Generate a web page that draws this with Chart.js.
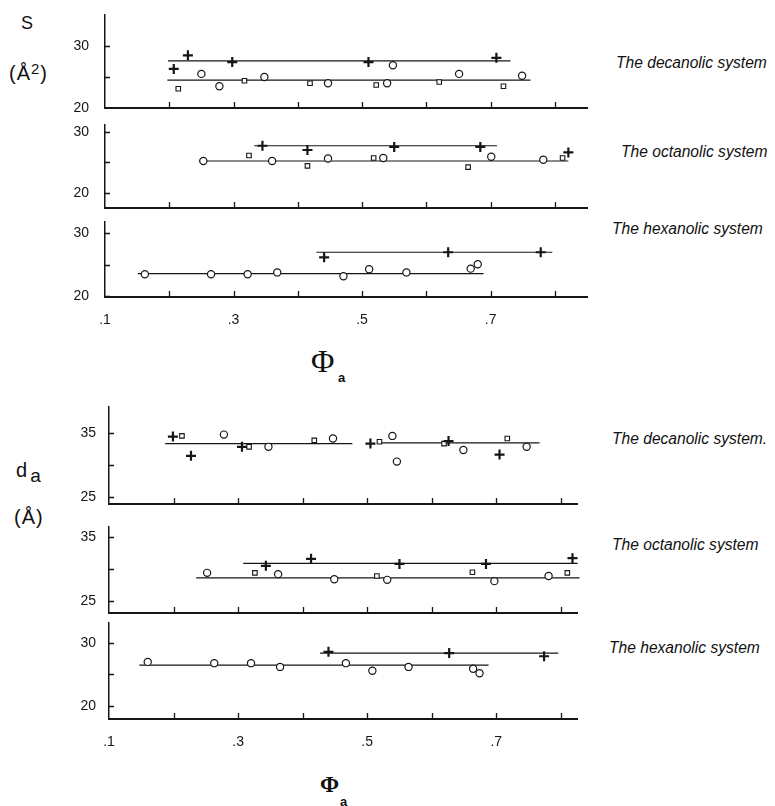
<!DOCTYPE html>
<html>
<head>
<meta charset="utf-8">
<script src="https://cdn.jsdelivr.net/npm/chart.js@4.4.1/dist/chart.umd.min.js"></script>
<style>
  html, body { margin: 0; padding: 0; background: #fff; }
  #page { position: relative; width: 775px; height: 806px; overflow: hidden;
          font-family: "Liberation Sans", Arial, sans-serif; color: #111; }
  #page canvas { position: absolute; left: 0; }
  .lbl { position: absolute; line-height: 1; white-space: nowrap; }
  .sys { font-style: italic; font-size: 15.6px; }
  .phi { font-family: "Liberation Serif", "DejaVu Serif", serif; }
</style>
</head>
<body>
<div id="page">
  <div class="lbl" style="left:21px;top:14px;font-size:18px">S</div>
  <div class="lbl" style="left:9px;top:61px;font-size:20px;letter-spacing:1px">(Å<span style="font-size:15px;vertical-align:6px">2</span>)</div>
  <div class="lbl" style="left:16px;top:460px;font-size:20px">d<span style="font-size:19px;vertical-align:-5px;margin-left:3px">a</span></div>
  <div class="lbl" style="left:14px;top:507px;font-size:20px;letter-spacing:1px">(Å)</div>

  <div class="lbl sys" style="left:616px;top:55px">The decanolic system</div>
  <div class="lbl sys" style="left:621px;top:144px">The octanolic system</div>
  <div class="lbl sys" style="left:612px;top:221px">The hexanolic system</div>
  <div class="lbl sys" style="left:612px;top:431px">The decanolic system.</div>
  <div class="lbl sys" style="left:612px;top:537px">The octanolic system</div>
  <div class="lbl sys" style="left:609px;top:640px">The hexanolic system</div>

  <div class="lbl phi" style="left:311px;top:345px;font-size:32px">Φ</div>
  <div class="lbl" style="left:338px;top:371px;font-size:13px;font-weight:bold">a</div>
  <div class="lbl phi" style="left:320px;top:773px;font-size:23px;font-weight:bold">Φ</div>
  <div class="lbl" style="left:340px;top:795px;font-size:13px;font-weight:bold">a</div>
</div>

<script>
// x axis (volume fraction) ticks
const xTicks = [0.1, 0.2, 0.3, 0.4, 0.5, 0.6, 0.7, 0.8];
const xTickLabels = [0.1, 0.3, 0.5, 0.7];

// ---- S (A^2) panels ----
const sDecPlus = [[0.207, 26.3], [0.229, 28.5], [0.298, 27.4], [0.51, 27.4], [0.709, 28.1]];
const sDecCircle = [[0.25, 25.5], [0.278, 23.5], [0.348, 25.0], [0.447, 24.0], [0.539, 24.0],
                    [0.548, 26.9], [0.651, 25.5], [0.749, 25.2]];
const sDecSquare = [[0.214, 23.1], [0.317, 24.4], [0.419, 24.0], [0.522, 23.7], [0.62, 24.2], [0.72, 23.5]];
const sDecPlusFit = [[0.198, 27.6], [0.731, 27.6]];
const sDecCircleFit = [[0.197, 24.5], [0.762, 24.5]];

const sOctPlus = [[0.345, 27.7], [0.415, 27.0], [0.55, 27.5], [0.684, 27.5], [0.821, 26.6]];
const sOctCircle = [[0.253, 25.2], [0.36, 25.2], [0.447, 25.6], [0.533, 25.7], [0.701, 25.9], [0.782, 25.4]];
const sOctSquare = [[0.324, 26.1], [0.415, 24.4], [0.518, 25.7], [0.665, 24.2], [0.812, 25.7]];
const sOctPlusFit = [[0.332, 27.7], [0.71, 27.7]];
const sOctCircleFit = [[0.246, 25.2], [0.821, 25.2]];

const sHexPlus = [[0.441, 26.2], [0.634, 27.0], [0.778, 27.0]];
const sHexCircle = [[0.162, 23.5], [0.265, 23.5], [0.322, 23.5], [0.368, 23.8], [0.471, 23.2],
                    [0.511, 24.3], [0.569, 23.8], [0.669, 24.4], [0.68, 25.1]];
const sHexPlusFit = [[0.429, 27.0], [0.796, 27.0]];
const sHexCircleFit = [[0.151, 23.6], [0.689, 23.6]];

// ---- d_a (A) panels ----
const dDecPlus = [[0.199, 34.4], [0.227, 31.4], [0.306, 32.8], [0.505, 33.3], [0.626, 33.7], [0.705, 31.6]];
const dDecCircle = [[0.278, 34.7], [0.347, 32.8], [0.447, 34.1], [0.539, 34.5], [0.546, 30.5],
                    [0.649, 32.3], [0.747, 32.8]];
const dDecSquare = [[0.213, 34.5], [0.317, 32.8], [0.418, 33.8], [0.519, 33.6], [0.619, 33.3], [0.717, 34.1]];
const dDecFitLeft = [[0.187, 33.3], [0.477, 33.3]];
const dDecFitRight = [[0.515, 33.4], [0.767, 33.4]];

const dOctPlus = [[0.343, 30.5], [0.413, 31.6], [0.55, 30.8], [0.684, 30.8], [0.818, 31.7]];
const dOctCircle = [[0.252, 29.4], [0.362, 29.2], [0.449, 28.4], [0.531, 28.3], [0.697, 28.1], [0.781, 28.9]];
const dOctSquare = [[0.326, 29.4], [0.515, 28.9], [0.663, 29.5], [0.81, 29.4]];
const dOctPlusFit = [[0.308, 30.9], [0.826, 30.9]];
const dOctCircleFit = [[0.235, 28.6], [0.829, 28.6]];

const dHexPlus = [[0.44, 28.6], [0.627, 28.4], [0.774, 27.9]];
const dHexCircle = [[0.16, 27.0], [0.263, 26.8], [0.32, 26.8], [0.365, 26.2], [0.467, 26.8],
                    [0.508, 25.6], [0.564, 26.2], [0.664, 25.9], [0.674, 25.2]];
const dHexPlusFit = [[0.427, 28.4], [0.796, 28.4]];
const dHexCircleFit = [[0.147, 26.5], [0.688, 26.5]];

// y ticks per panel
const sTicks = [20, 25, 30];
const sTickLabels = [20, 30];
const dTicksUpper = [25, 30, 35];
const dTickLabelsUpper = [25, 35];
const dTicksLower = [20, 25, 30];
const dTickLabelsLower = [20, 30];

/* ============================
   Panel layout
============================ */
const panels = [
    { left: 105, right: 587, top: 15, bottom: 108, xMax: 0.85, yMin: 20, yMax: 35, labelPad: 16,
      yTicks: sTicks, yLabels: sTickLabels, showX: false,
      plus: sDecPlus, circle: sDecCircle, square: sDecSquare, fits: [sDecPlusFit, sDecCircleFit] },
    { left: 105, right: 587, top: 125, bottom: 208, xMax: 0.85, yMin: 17.5, yMax: 31.1, labelPad: 16,
      yTicks: sTicks, yLabels: sTickLabels, showX: false,
      plus: sOctPlus, circle: sOctCircle, square: sOctSquare, fits: [sOctPlusFit, sOctCircleFit] },
    { left: 105, right: 587, top: 222, bottom: 297, xMax: 0.85, yMin: 19.9, yMax: 31.8, labelPad: 16,
      yTicks: sTicks, yLabels: sTickLabels, showX: true,
      plus: sHexPlus, circle: sHexCircle, square: [], fits: [sHexPlusFit, sHexCircleFit] },
    { left: 109, right: 577, top: 407, bottom: 504, xMax: 0.825, yMin: 23.9, yMax: 39, labelPad: 13,
      yTicks: dTicksUpper, yLabels: dTickLabelsUpper, showX: false,
      plus: dDecPlus, circle: dDecCircle, square: dDecSquare, fits: [dDecFitLeft, dDecFitRight] },
    { left: 109, right: 577, top: 527, bottom: 613, xMax: 0.825, yMin: 23.1, yMax: 36.6, labelPad: 13,
      yTicks: dTicksUpper, yLabels: dTickLabelsUpper, showX: false,
      plus: dOctPlus, circle: dOctCircle, square: dOctSquare, fits: [dOctPlusFit, dOctCircleFit] },
    { left: 109, right: 577, top: 623, bottom: 719, xMax: 0.825, yMin: 17.9, yMax: 33.2, labelPad: 13,
      yTicks: dTicksLower, yLabels: dTickLabelsLower, showX: true,
      plus: dHexPlus, circle: dHexCircle, square: [], fits: [dHexPlusFit, dHexCircleFit] }
];

const INK = '#161616';
const PAD_TOP = 30, PAD_BOTTOM = 40, PAD_RIGHT = 10;

Chart.defaults.font.family = '"Liberation Sans", Arial, sans-serif';
Chart.defaults.font.size = 14;
Chart.defaults.color = INK;

/* ============================
   Tick marks drawn inward
============================ */
const innerTicks = {
    id: 'innerTicks',
    afterDraw(chart) {
        const { ctx, chartArea, scales: { x, y } } = chart;
        ctx.save();
        ctx.strokeStyle = INK;
        ctx.lineWidth = 1.3;
        ctx.beginPath();
        y.ticks.forEach(t => {
            if (t.value <= y.min) return;
            const py = Math.round(y.getPixelForValue(t.value)) + 0.5;
            ctx.moveTo(chartArea.left, py);
            ctx.lineTo(chartArea.left + 5, py);
        });
        x.ticks.forEach(t => {
            if (t.value <= x.min) return;
            const px = Math.round(x.getPixelForValue(t.value)) + 0.5;
            ctx.moveTo(px, chartArea.bottom);
            ctx.lineTo(px, chartArea.bottom - 6);
        });
        ctx.stroke();
        ctx.restore();
    }
};

const toPoints = pairs => pairs.map(([x, y]) => ({ x, y }));

function buildPanel(p) {
    const canvas = document.createElement('canvas');
    // x axis box must be tall enough for its labels (they are clipped to it)
    const xAxisH = p.showX ? 36 : 1;
    const w = p.right + PAD_RIGHT;
    const h = (p.bottom - p.top) + PAD_TOP + PAD_BOTTOM + xAxisH;
    canvas.width = w;
    canvas.height = h;
    canvas.style.width = w + 'px';
    canvas.style.height = h + 'px';
    canvas.style.top = (p.top - PAD_TOP) + 'px';
    document.getElementById('page').appendChild(canvas);

    const datasets = [
        { data: toPoints(p.plus), pointStyle: 'cross', pointRadius: 5, borderWidth: 2.2,
          borderColor: INK, showLine: false },
        { data: toPoints(p.circle), pointStyle: 'circle', pointRadius: 3.6, borderWidth: 1.2,
          borderColor: INK, backgroundColor: '#fff', showLine: false },
        { data: toPoints(p.square), pointStyle: 'rect', pointRadius: 3.2, borderWidth: 1.1,
          borderColor: INK, backgroundColor: '#fff', showLine: false }
    ];
    p.fits.forEach(f => {
        datasets.push({ data: toPoints(f), showLine: true, pointRadius: 0,
                        borderColor: INK, borderWidth: 1.2 });
    });

    new Chart(canvas.getContext('2d'), {
        type: 'scatter',
        data: { datasets },
        options: {
            responsive: false,
            devicePixelRatio: 1,
            animation: false,
            events: [],
            clip: false,
            layout: { padding: { top: PAD_TOP, bottom: PAD_BOTTOM, right: PAD_RIGHT, left: 0 } },
            plugins: { legend: { display: false }, tooltip: { enabled: false } },
            scales: {
                x: {
                    type: 'linear',
                    min: 0.1,
                    max: p.xMax,
                    afterBuildTicks: scale => { scale.ticks = xTicks.map(v => ({ value: v })); },
                    afterFit: scale => { scale.height = xAxisH; },
                    grid: { display: true, drawOnChartArea: false, drawTicks: false },
                    border: { display: true, color: INK, width: 2 },
                    ticks: {
                        display: p.showX,
                        padding: 15,
                        maxRotation: 0,
                        autoSkip: false,
                        callback: v => xTickLabels.includes(v) ? String(v).replace('0.', '.') : ''
                    }
                },
                y: {
                    type: 'linear',
                    min: p.yMin,
                    max: p.yMax,
                    afterBuildTicks: scale => { scale.ticks = p.yTicks.map(v => ({ value: v })); },
                    afterFit: scale => { scale.width = p.left; },
                    grid: { display: true, drawOnChartArea: false, drawTicks: false },
                    border: { display: true, color: INK, width: 1.5 },
                    ticks: {
                        padding: p.labelPad,
                        autoSkip: false,
                        callback: v => p.yLabels.includes(v) ? String(v) : ''
                    }
                }
            }
        },
        plugins: [innerTicks]
    });
}

panels.forEach(buildPanel);
</script>
</body>
</html>
